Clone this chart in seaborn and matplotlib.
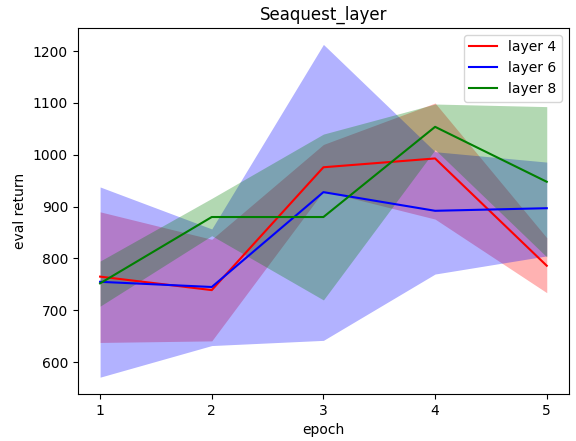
import matplotlib
matplotlib.use("Agg")
import matplotlib.pyplot as plt
import seaborn as sns
import pandas as pd

epochs = [1, 2, 3, 4, 5]
labels = ["layer 4", "layer 6", "layer 8"]
colors = ["red", "blue", "green"]

mean_l4 = [765, 739, 976, 993, 786]
low_l4 = [638, 641, 930, 876, 734]
high_l4 = [890, 837, 1020, 1100, 840]

mean_l6 = [755, 745, 928, 892, 897]
low_l6 = [571, 632, 642, 770, 805]
high_l6 = [938, 857, 1213, 1006, 986]

mean_l8 = [752, 880, 880, 1054, 948]
low_l8 = [708, 844, 720, 1010, 803]
high_l8 = [795, 916, 1040, 1098, 1093]

means = [mean_l4, mean_l6, mean_l8]
lows = [low_l4, low_l6, low_l8]
highs = [high_l4, high_l6, high_l8]

fig = plt.figure(figsize=(5.76, 4.41), dpi=100)
ax = fig.add_axes([0.135, 0.107, 0.853, 0.830])

for lab, col, m, lo, hi in zip(labels, colors, means, lows, highs):
    df = pd.DataFrame({"epoch": epochs, "eval return": m})
    sns.lineplot(data=df, x="epoch", y="eval return", color=col, label=lab, ax=ax)
    ax.fill_between(epochs, lo, hi, color=col, alpha=0.3, linewidth=0)

ax.set_xticks(epochs)
ax.set_title("Seaquest_layer")
ax.set_xlabel("epoch")
ax.set_ylabel("eval return")
ax.legend(loc="upper right")

fig.savefig("out.png", dpi=100)
